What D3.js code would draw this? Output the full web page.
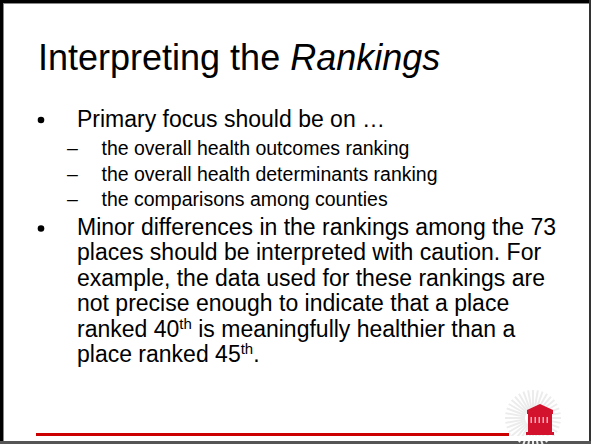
<!DOCTYPE html>
<html><head><meta charset="utf-8">
<script src="https://cdn.jsdelivr.net/npm/d3@7"></script>
<style>body{margin:0;background:#fff}svg{display:block}</style>
</head><body>
<script>
const titleParts = [{t:"Interpreting the ", i:false},{t:"Rankings", i:true}];
const bullet1 = "Primary focus should be on \u2026";
const subBullets = ["the overall health outcomes ranking","the overall health determinants ranking","the comparisons among counties"];
// each line as segments; sup = superscript
const bullet2Lines = [
  [{t:"Minor differences in the rankings among the 73"}],
  [{t:"places should be interpreted with caution. For"}],
  [{t:"example, the data used for these rankings are"}],
  [{t:"not precise enough to indicate that a place"}],
  [{t:"ranked 40"},{t:"th",sup:true},{t:" is meaningfully healthier than a"}],
  [{t:"place ranked 45"},{t:"th",sup:true},{t:"."}]
];

const W=591,H=444;
const svg=d3.select("body").append("svg").attr("width",W).attr("height",H);
const font="Liberation Sans, Arial, sans-serif";
svg.append("rect").attr("width",W).attr("height",H).attr("fill","#fff");

// border
svg.append("rect").attr("x",0).attr("y",0).attr("width",3).attr("height",H).attr("fill","#000");
svg.append("rect").attr("x",3).attr("y",3).attr("width",1).attr("height",438).attr("fill","#888");
svg.append("rect").attr("x",0).attr("y",0).attr("width",W).attr("height",3).attr("fill","#000");
svg.append("rect").attr("x",3).attr("y",3).attr("width",586).attr("height",1).attr("fill","#888");
svg.append("rect").attr("x",589).attr("y",0).attr("width",2).attr("height",H).attr("fill","#333");
svg.append("rect").attr("x",0).attr("y",441).attr("width",W).attr("height",3).attr("fill","#555");

// title
const tt=svg.append("text").attr("x",38).attr("y",70).attr("font-family",font).attr("font-size",36).attr("fill","#000");
tt.selectAll("tspan").data(titleParts).join("tspan").attr("font-style",d=>d.i?"italic":"normal").text(d=>d.t);

// bullet 1
svg.append("circle").attr("cx",41).attr("cy",120).attr("r",3.3).attr("fill","#000");
svg.append("text").attr("x",77).attr("y",127).attr("font-family",font).attr("font-size",23).text(bullet1);

const subY=d3.scalePoint().domain(d3.range(subBullets.length)).range([155,206]);
const sg=svg.append("g");
subBullets.forEach((s,i)=>{
  sg.append("text").attr("x",67).attr("y",subY(i)).attr("font-family",font).attr("font-size",19.5).text("\u2013");
  sg.append("text").attr("x",101.5).attr("y",subY(i)).attr("font-family",font).attr("font-size",19.5).text(s);
});

// bullet 2
svg.append("circle").attr("cx",41).attr("cy",228.5).attr("r",3.3).attr("fill","#000");
const lineY=d3.scalePoint().domain(d3.range(bullet2Lines.length)).range([235,362]);
bullet2Lines.forEach((segs,i)=>{
  const t=svg.append("text").attr("x",77).attr("y",lineY(i)).attr("font-family",font).attr("font-size",23);
  let prevSup=false;
  segs.forEach(s=>{
    if(s.sup){ t.append("tspan").attr("font-size",15).attr("dy",-8).text(s.t); }
    else { const sp=t.append("tspan").text(s.t); if(prevSup) sp.attr("dy",8); }
    prevSup=!!s.sup;
  });
});

// red line
svg.append("rect").attr("x",36).attr("y",433).attr("width",473).attr("height",3).attr("fill","#cc0000");

// logo
const lg=svg.append("g").attr("transform","translate(533,418)");
const rays=d3.range(0,360,10);
lg.selectAll("line.ray").data(rays).join("line")
  .attr("x1",d=>Math.cos(d*Math.PI/180)*8).attr("y1",d=>Math.sin(d*Math.PI/180)*8)
  .attr("x2",d=>Math.cos(d*Math.PI/180)*28).attr("y2",d=>Math.sin(d*Math.PI/180)*28)
  .attr("stroke","#ececec").attr("stroke-width",2);
svg.append("rect").attr("x",505).attr("y",436).attr("width",60).attr("height",5).attr("fill","#fff");
const red="#d3122e";
const b=svg.append("g");
b.append("path").attr("d","M527,410 L540,404 L553,410 Z").attr("fill",red);
b.append("rect").attr("x",527).attr("y",410).attr("width",26).attr("height",4).attr("fill",red);
b.append("rect").attr("x",528).attr("y",414).attr("width",24).attr("height",18).attr("fill",red);
[530,534,538,542,546].forEach(x=>b.append("rect").attr("x",x+0.5).attr("y",417).attr("width",1.5).attr("height",6).attr("fill","#f3b0b8"));
b.append("rect").attr("x",526).attr("y",432).attr("width",28).attr("height",3).attr("fill",red);
</script>
</body></html>
